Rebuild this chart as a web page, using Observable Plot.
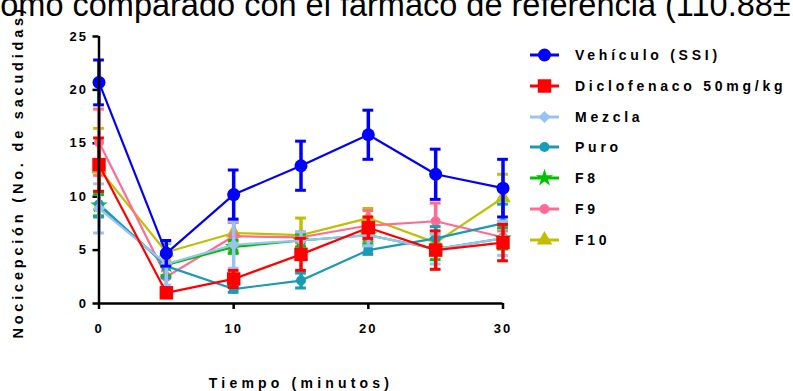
<!DOCTYPE html>
<html>
<head>
<meta charset="utf-8">
<script src="https://cdn.jsdelivr.net/npm/d3@7"></script>
<script src="https://cdn.jsdelivr.net/npm/@observablehq/plot@0.6"></script>
<style>
  html, body { margin: 0; padding: 0; background: white; }
  #wrap { position: relative; width: 793px; height: 391px; overflow: hidden; background: white; font-family: "Liberation Sans", Arial, sans-serif; }
  #chart { position: absolute; left: 0; top: 0; }
  #title { position: absolute; left: -16px; top: -11px; font-size: 32.5px; line-height: 32px; white-space: nowrap; color: #000; }
  .atitle { position: absolute; font-size: 14px; line-height: 14px; font-weight: bold; letter-spacing: 4.2px; white-space: nowrap; color: #000; }
  #xtitle { left: 301px; top: 376px; transform: translateX(-50%); }
  #ytitle { left: 18px; top: 172px; transform: translate(-50%, -50%) rotate(-90deg); font-size: 14.5px; letter-spacing: 3.8px; }
  #legend { position: absolute; left: 530px; top: 39.6px; }
  .lrow { display: flex; align-items: center; height: 30.8px; }
  .lrow svg { margin-right: 16px; overflow: visible; }
  .lrow span { font-size: 14px; font-weight: bold; letter-spacing: 3.75px; white-space: nowrap; color: #000; }
</style>
</head>
<body>
<div id="wrap">
  <div id="chart"></div>
  <div id="title"></div>
  <div id="ytitle" class="atitle"></div>
  <div id="xtitle" class="atitle"></div>
  <div id="legend"></div>
</div>
<script>
// ---- data ----
const titleText = "como comparado con el fármaco de referencia (110.88±11";
const xLabel = "Tiempo (minutos)";
const yLabel = "Nocicepción (No. de sacudidas)";
const times = [0, 5, 10, 15, 20, 25, 30];
const xTicks = [0, 10, 20, 30];
const yTicks = [0, 5, 10, 15, 20, 25];

const seriesNames = ["Vehículo (SSI)", "Diclofenaco 50mg/kg", "Mezcla", "Puro", "F8", "F9", "F10"];
const vehiculo    = [20.7, 4.7, 10.2, 12.9, 15.8, 12.1, 10.8];
const vehiculoErr = [2.1, 1.2, 2.3, 2.3, 2.3, 2.35, 2.7];
const diclofenaco    = [13.0, 1.0, 2.3, 4.6, 7.1, 5.0, 5.7];
const diclofenacoErr = [2.5, 0.3, 0.8, 1.5, 1.0, 1.8, 1.7];
const mezcla    = [8.9, 3.7, 5.5, 5.9, 6.4, 5.1, 6.1];
const mezclaErr = [2.3, 2.0, 2.2, 0.8, 1.0, 1.4, 1.6];
const puro    = [9.3, 3.5, 1.35, 2.15, 5.0, 6.1, 7.5];
const puroErr = [1.2, 1.1, 0.3, 0.7, 0.4, 1.1, 1.8];
const f8    = [9.2, 3.6, 5.3, 5.9, 6.4, 5.1, 6.1];
const f8Err = [1.0, 1.0, 0.6, 0.6, 0.8, 1.0, 1.0];
const f9    = [15.1, 2.5, 6.3, 6.2, 7.3, 7.7, 6.2];
const f9Err = [3.1, 1.0, 1.3, 0.5, 1.4, 1.7, 0.6];
const f10    = [12.6, 4.8, 6.6, 6.4, 8.0, 5.7, 9.9];
const f10Err = [3.8, 0.8, 1.0, 1.6, 0.9, 0.8, 2.2];

const seriesValues = [vehiculo, diclofenaco, mezcla, puro, f8, f9, f10];
const seriesErrors = [vehiculoErr, diclofenacoErr, mezclaErr, puroErr, f8Err, f9Err, f10Err];
const seriesColors = ["#0000ff", "#ff0000", "#99c2f7", "#1a9bb5", "#00c000", "#ff6b94", "#c0c000"];
const seriesSymbols = ["circle", "square", "diamond2", "circle", "star", "circle", "triangle"];
const seriesR = [6.5, 7.6, 5.5, 5, 5.5, 5, 5.8];
const seriesErrWidth = [3.5, 3.5, 3.5, 3.5, 3.5, 3.5, 3.5];

// ---- build ----
const series = seriesNames.map((name, k) => ({
  name, color: seriesColors[k], symbol: seriesSymbols[k], r: seriesR[k], ew: seriesErrWidth[k],
  rows: times.map((t, i) => ({ t, v: seriesValues[k][i], e: seriesErrors[k][i] }))
}));

const capHalf = 0.4;
const seriesMarks = [];
// draw last series first so the first one is on top
for (const s of [...series].reverse()) {
  seriesMarks.push(
    Plot.ruleX(s.rows, { x: "t", y1: d => d.v - d.e, y2: d => d.v + d.e, stroke: s.color, strokeWidth: s.ew }),
    Plot.ruleY(s.rows, { y: d => d.v + d.e, x1: d => d.t - capHalf, x2: d => d.t + capHalf, stroke: s.color, strokeWidth: 3 }),
    Plot.ruleY(s.rows, { y: d => d.v - d.e, x1: d => d.t - capHalf, x2: d => d.t + capHalf, stroke: s.color, strokeWidth: 3 }),
    Plot.line(s.rows, { x: "t", y: "v", stroke: s.color, strokeWidth: 2.2 }),
    Plot.dot(s.rows, { x: "t", y: "v", fill: s.color, stroke: "none", symbol: s.symbol, r: s.r })
  );
}

const chart = Plot.plot({
  width: 793,
  height: 391,
  marginLeft: 98.5,
  marginRight: 290.5,
  marginTop: 36,
  marginBottom: 88,
  x: { domain: [0, 30] },
  y: { domain: [0, 25] },
  style: { fontFamily: "'Liberation Sans', Arial, sans-serif", fontSize: "13px", fontWeight: "bold", letterSpacing: "2px", background: "transparent", color: "#000" },
  marks: [
    Plot.axisX({ ticks: xTicks, tickSize: 6, tickPadding: 14, strokeWidth: 2.5, label: null, tickFormat: d => String(d) }),
    Plot.axisY({ ticks: yTicks, tickSize: 6, tickPadding: 5, strokeWidth: 2.5, label: null, tickFormat: d => String(d) }),
    ...seriesMarks,
    Plot.ruleY([0], { stroke: "#000", strokeWidth: 2.5 }),
    Plot.ruleX([0], { stroke: "#000", strokeWidth: 2.5 })
  ]
});
document.getElementById("chart").appendChild(chart);

document.getElementById("title").textContent = titleText;
document.getElementById("xtitle").textContent = xLabel;
document.getElementById("ytitle").textContent = yLabel;

// legend
const legend = document.getElementById("legend");
for (const s of series) {
  const row = document.createElement("div");
  row.className = "lrow";
  const svg = d3.create("svg").attr("width", 29).attr("height", 16);
  svg.append("line").attr("x1", 0).attr("x2", 29).attr("y1", 8).attr("y2", 8).attr("stroke", s.color).attr("stroke-width", 3);
  const symMap = { circle: d3.symbolCircle, square: d3.symbolSquare, diamond2: d3.symbolDiamond2, star: d3.symbolStar, triangle: d3.symbolTriangle };
  const area = Math.PI * s.r * s.r;
  svg.append("path").attr("transform", "translate(14.5,8)").attr("d", d3.symbol(symMap[s.symbol], area)()).attr("fill", s.color);
  row.appendChild(svg.node());
  const span = document.createElement("span");
  span.textContent = s.name;
  row.appendChild(span);
  legend.appendChild(row);
}
</script>
</body>
</html>
